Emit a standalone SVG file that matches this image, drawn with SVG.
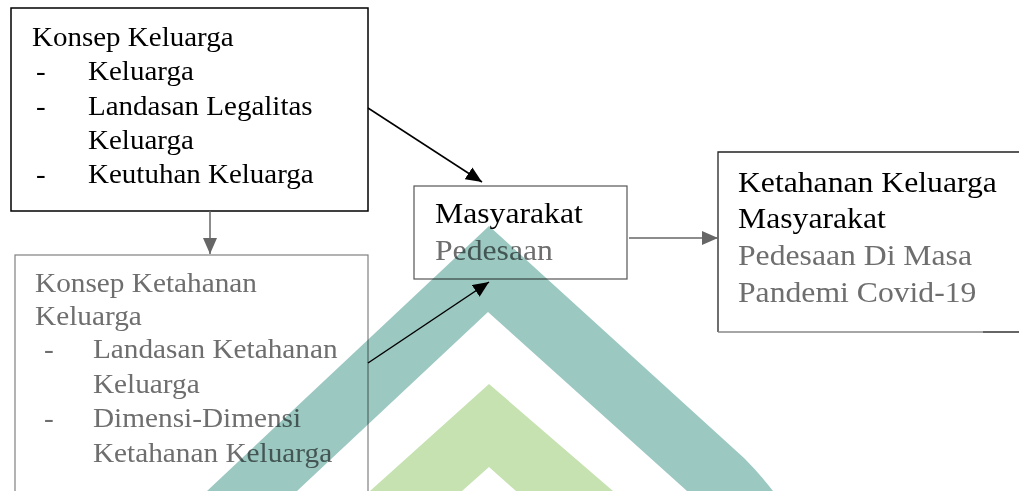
<svg xmlns="http://www.w3.org/2000/svg" width="1019" height="491" viewBox="0 0 1019 491">
<style>
.t{font-family:"Liberation Serif","Times New Roman",serif;}
.s1{font-size:27.5px;}
.s2{font-size:28px;}
.l{font-size:30px;}
.k{fill:#000;}
.g{fill:#6e6e6e;}
.box{fill:#fff;}
.ln{fill:none;stroke-width:1.5;}
</style>
<defs>
<marker id="ak" markerUnits="userSpaceOnUse" markerWidth="17" markerHeight="15" refX="16" refY="7" orient="auto"><path d="M0,0 L16,7 L0,14 z" fill="#000"/></marker>
<marker id="ag" markerUnits="userSpaceOnUse" markerWidth="17" markerHeight="15" refX="16" refY="7" orient="auto"><path d="M0,0 L16,7 L0,14 z" fill="#666"/></marker>
</defs>
<rect width="1019" height="491" fill="#fff"/>

<g id="node-konsep-keluarga">
<rect class="box" x="11" y="8" width="357" height="203" stroke="#000" stroke-width="1.5"/>
<g class="t s1 k" transform="matrix(1.055 0 0 1 32 0)">
<text x="0" y="46">Konsep Keluarga</text>
<text x="3.8" y="80">-</text><text x="53.1" y="80">Keluarga</text>
<text x="3.8" y="115">-</text><text x="53.1" y="115">Landasan Legalitas</text>
<text x="53.1" y="149">Keluarga</text>
<text x="3.8" y="183">-</text><text x="53.1" y="183">Keutuhan Keluarga</text>
</g>
</g>

<g id="node-konsep-ketahanan">
<rect class="box" x="15" y="255" width="353" height="250" stroke="#808080" stroke-width="1.2"/>
<g class="t s2 g" transform="matrix(1.046 0 0 1 35 0)">
<text x="0" y="292">Konsep Ketahanan</text>
<text x="0" y="325">Keluarga</text>
<text x="8.6" y="358">-</text><text x="55.4" y="358">Landasan Ketahanan</text>
<text x="55.4" y="393">Keluarga</text>
<text x="8.6" y="427">-</text><text x="55.4" y="427">Dimensi-Dimensi</text>
<text x="55.4" y="462">Ketahanan Keluarga</text>
</g>
</g>

<g id="node-masyarakat">
<rect class="box" x="414" y="186" width="213" height="93" stroke="#555" stroke-width="1.2"/>
<g class="t l" transform="matrix(1.056 0 0 1 435 0)">
<text class="k" x="0" y="223">Masyarakat</text>
<text class="g" x="0" y="260">Pedesaan</text>
</g>
</g>

<g id="node-ketahanan-masyarakat">
<rect class="box" x="718" y="152" width="320" height="180" stroke="none"/>
<path d="M1019,152 H718 V332" fill="none" stroke="#222" stroke-width="1.3"/>
<path d="M718,332 H983" fill="none" stroke="#888" stroke-width="1.3"/>
<path d="M983,332 H1019" fill="none" stroke="#333" stroke-width="1.5"/>
<g class="t l" transform="matrix(1.056 0 0 1 738 0)">
<text class="k" x="0" y="192">Ketahanan Keluarga</text>
<text class="k" x="0" y="228">Masyarakat</text>
<text class="g" x="0" y="265">Pedesaan Di Masa</text>
<text class="g" x="0" y="302">Pandemi Covid-19</text>
</g>
</g>

<g id="connectors">
<path class="ln" d="M210,211 V254" stroke="#666" marker-end="url(#ag)"/>
<path class="ln" d="M368,108 L482,182" stroke="#000" marker-end="url(#ak)"/>
<path class="ln" d="M629,238 H718" stroke="#666" marker-end="url(#ag)"/>
<path class="ln" d="M368,363 L489,282" stroke="#000" marker-end="url(#ak)"/>
</g>

<g id="watermark" style="mix-blend-mode:multiply">
<path d="M207,491 L489,226 L744,458 Q760,474 773,491 L687,491 L488,312 L297,491 Z" fill="#9cc8c2"/>
<path d="M370,491 L489,384 L613,491 L516,491 L489,467 L462,491 Z" fill="#c6e2b0"/>
</g>
</svg>
